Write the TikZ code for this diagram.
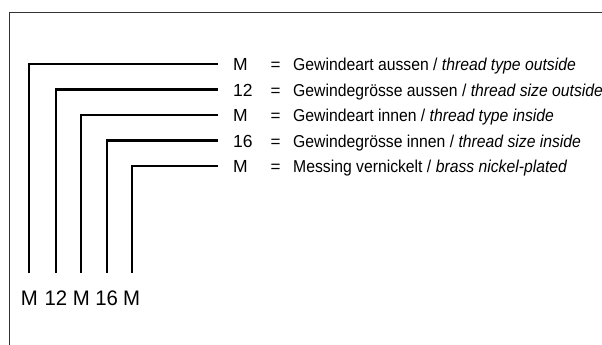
\documentclass[tikz,border=0pt]{standalone}
\usepackage{fontspec}
\setmainfont{Liberation Sans}
\newfontfamily\descfont[FakeStretch=0.915]{Liberation Sans}
\newfontfamily\botfont[FakeStretch=0.97]{Liberation Sans}
\begin{document}
\begin{tikzpicture}[x=1pt,y=-1pt,
  frame/.style={draw=black!80,line width=1pt},
  leader/.style={draw=black,line width=2.2pt},
  code/.style={anchor=base west,inner sep=0pt,font=\fontsize{17.5}{19}\selectfont},
  eqs/.style={anchor=base,inner sep=0pt,font=\fontsize{17}{18}\selectfont},
  desc/.style={anchor=base west,inner sep=0pt,font=\descfont\fontsize{17.2}{18}\selectfont},
  bot/.style={anchor=base,inner sep=0pt,font=\botfont\fontsize{21}{22}\selectfont}]
\useasboundingbox (0,0) rectangle (602,345);
% frame
\coordinate (ftl) at (9.3,12.3);
\coordinate (ftr) at (602,12.3);
\coordinate (fbl) at (9.3,345);
\draw[frame] (ftr) -- (ftl) -- (fbl);
% leader lines
\foreach \i/\x/\y in {1/29.3/64,2/56/89.5,3/81.3/115,4/106.7/140.5,5/131.7/166}{
  \coordinate (b\i) at (\x,273);
  \coordinate (e\i) at (218,\y);
  \draw[leader] (b\i) |- (e\i);
}
% codes, equals, descriptions
\node[code] (c1) at (233,70.8) {M};
\node[code] (c2) at (233,96.3) {12};
\node[code] (c3) at (233,121.8) {M};
\node[code] (c4) at (233,147.3) {16};
\node[code] (c5) at (233,172.8) {M};
\foreach \i/\y in {1/70.8,2/96.3,3/121.8,4/147.3,5/172.8}{
  \node[eqs] (q\i) at (275.5,\y) {=};
}
\node[desc] (d1) at (293,70.8) {Gewindeart aussen / \textit{thread type outside}};
\node[desc] (d2) at (293,96.3) {Gewindegrösse aussen / \textit{thread size outside}};
\node[desc] (d3) at (293,121.8) {Gewindeart innen / \textit{thread type inside}};
\node[desc] (d4) at (293,147.3) {Gewindegrösse innen / \textit{thread size inside}};
\node[desc] (d5) at (293,172.8) {Messing vernickelt / \textit{brass nickel-plated}};
% bottom labels
\node[bot] (l1) at (29.3,305) {M};
\node[bot] (l2) at (56,305) {12};
\node[bot] (l3) at (81.3,305) {M};
\node[bot] (l4) at (106.7,305) {16};
\node[bot] (l5) at (131.7,305) {M};
\end{tikzpicture}
\end{document}
